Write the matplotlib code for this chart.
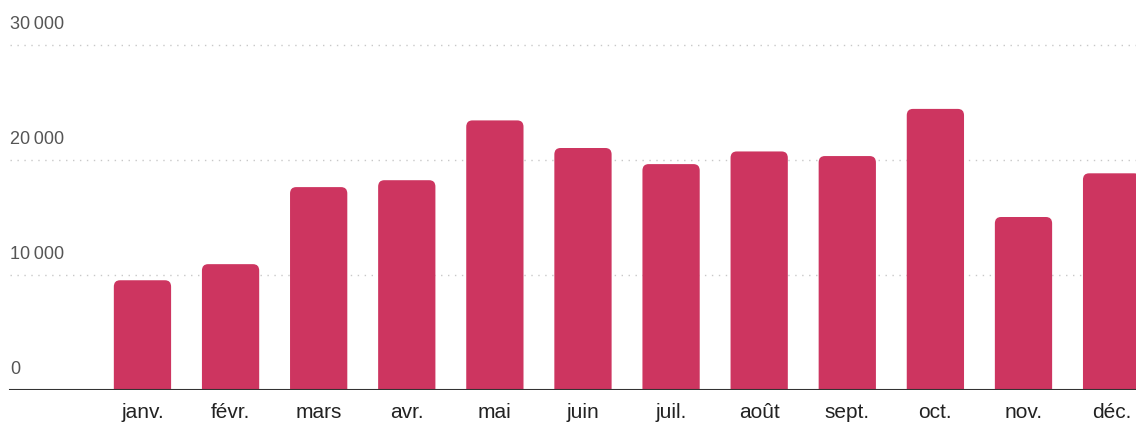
import matplotlib
matplotlib.use("Agg")
import matplotlib.pyplot as plt
from matplotlib.patches import FancyBboxPatch

mois = ["janv.", "févr.", "mars", "avr.", "mai", "juin",
        "juil.", "août", "sept.", "oct.", "nov.", "déc."]
valeurs = [9500, 10900, 17600, 18200, 23400, 21000,
           19600, 20700, 20300, 24400, 15000, 18800]
graduations = [0, 10000, 20000, 30000]
etiquettes_y = ["0", "10\u2009000", "20\u2009000", "30\u2009000"]

plt.rcParams["font.family"] = ["Liberation Sans", "DejaVu Sans"]

fig = plt.figure(figsize=(11.36, 4.23), dpi=100)
ax = fig.add_axes([0, 33.5 / 423, 1, 389.5 / 423])
ax.set_xlim(-1.617, 11.277)
ax.set_ylim(0, 33870)

# barres invisibles pour la géométrie, puis coins arrondis en haut
barres = ax.bar(range(len(mois)), valeurs, width=0.65, alpha=0)
r_x = 0.07
r_y = 560
for b in barres:
    p = FancyBboxPatch((b.get_x(), -r_y * 2), b.get_width(), b.get_height() + r_y * 2,
                       boxstyle=f"round,pad=0,rounding_size={r_x}",
                       mutation_aspect=r_y / r_x,
                       facecolor="#cd3560", edgecolor="none", zorder=2)
    ax.add_patch(p)

for g, lab in zip(graduations, etiquettes_y):
    if g > 0:
        ax.axhline(g, xmin=10 / 1136, color="#c8c8c8", linestyle=(0, (1, 4)),
                   linewidth=1, zorder=1)
    ax.text(10 / 1136, g + 1000, lab, transform=ax.get_yaxis_transform(),
            ha="left", va="bottom", fontsize=13, color="#555555")

ax.axhline(0, xmin=10 / 1136, color="#333333", linewidth=1.5, zorder=3)

ax.set_xticks(range(len(mois)))
ax.set_xticklabels(mois, fontsize=15, color="#222222")
ax.tick_params(axis="x", length=0, pad=10)
ax.set_yticks([])
for s in ax.spines.values():
    s.set_visible(False)

fig.savefig("out.png", dpi=100)
